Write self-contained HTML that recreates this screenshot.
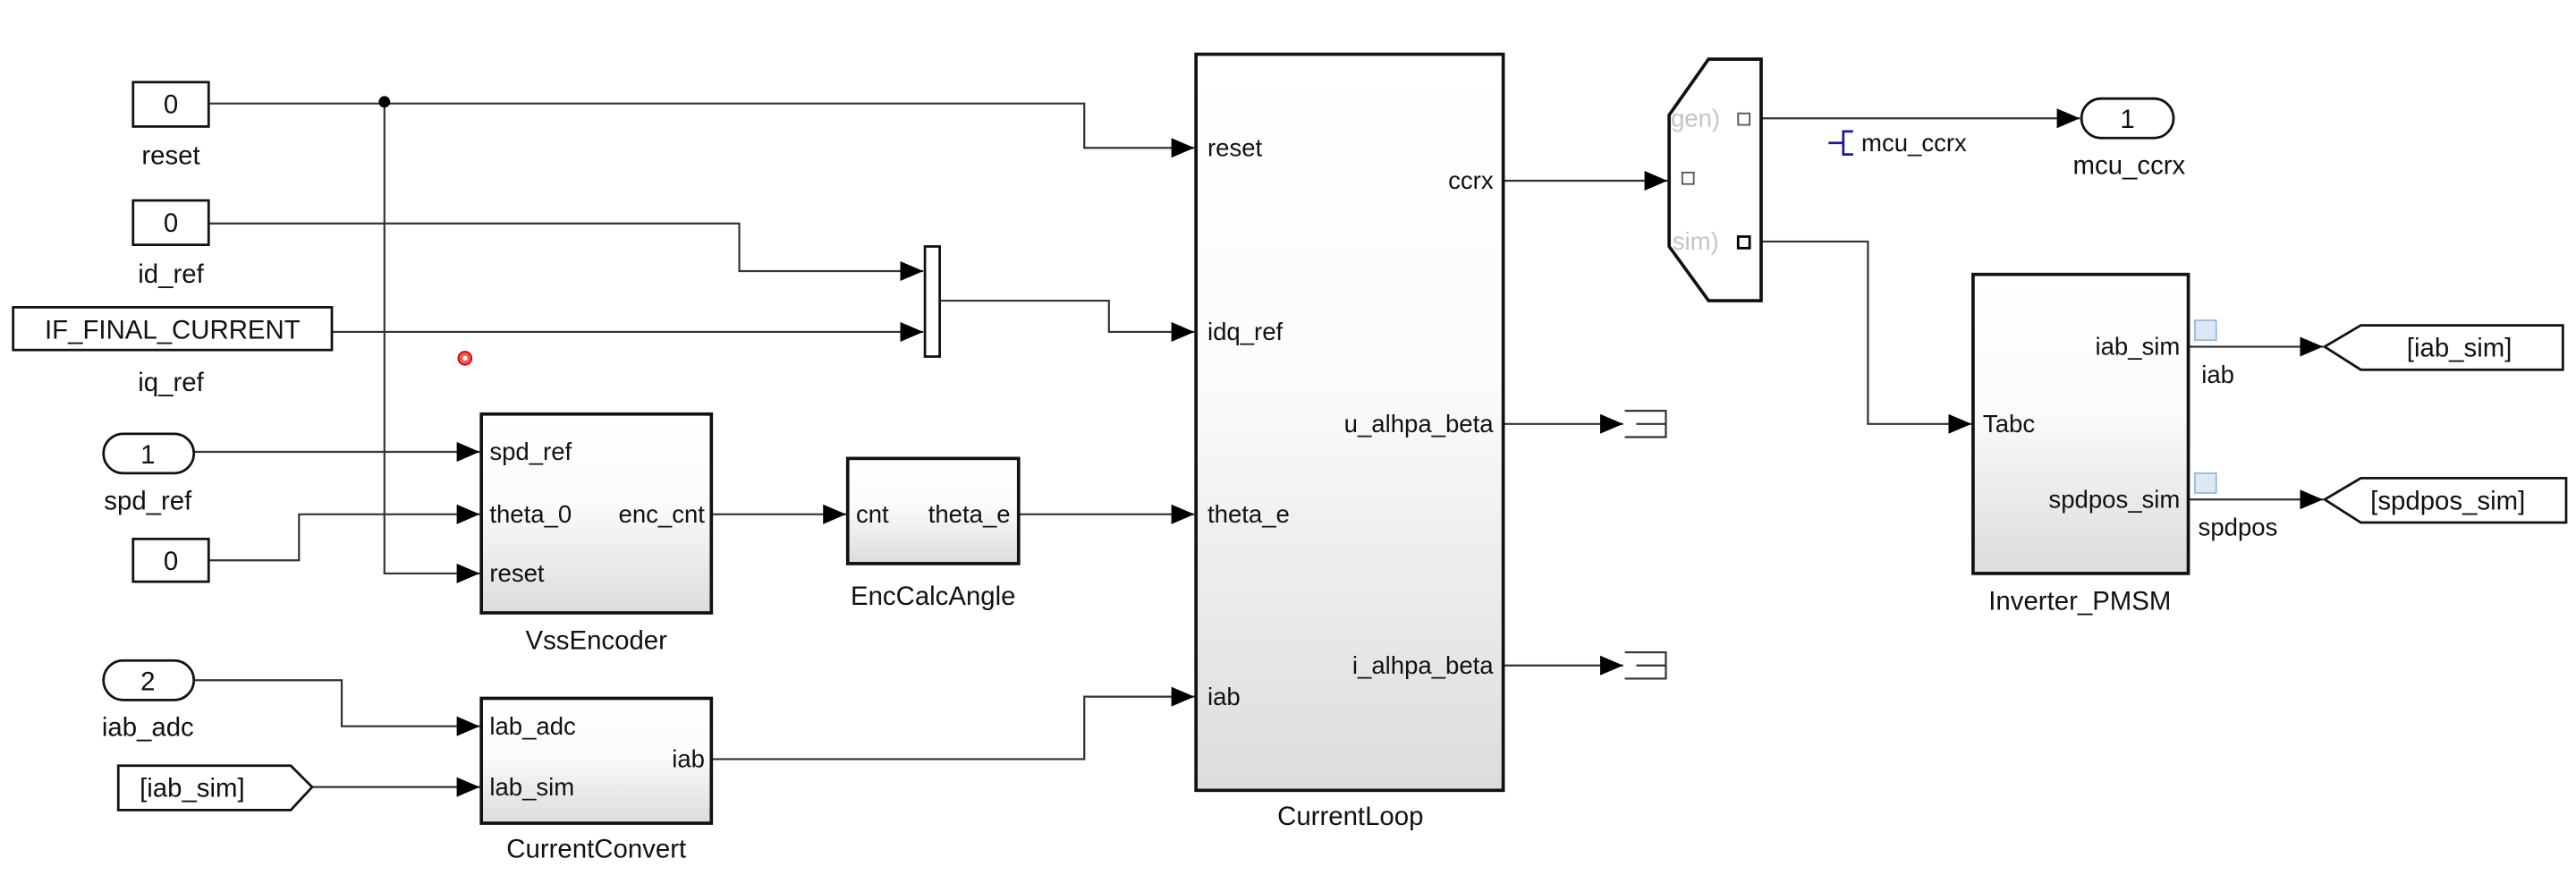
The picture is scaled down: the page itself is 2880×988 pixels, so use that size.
<!DOCTYPE html>
<html><head><meta charset="utf-8"><style>
html,body{margin:0;padding:0;background:#fff;overflow:hidden}
svg{display:block}
text{font-family:"Liberation Sans",Arial,sans-serif;fill:#111}
</style></head><body>
<svg width="2880" height="988" viewBox="0 0 1568 538" preserveAspectRatio="none" xmlns="http://www.w3.org/2000/svg">
<defs>
<linearGradient id="g" x1="0" y1="0" x2="0" y2="1"><stop offset="0" stop-color="#ffffff"/><stop offset="0.45" stop-color="#fbfbfb"/><stop offset="1" stop-color="#dcdcdc"/></linearGradient>
<marker id="a" markerWidth="14" markerHeight="12" refX="14" refY="6" orient="auto" markerUnits="userSpaceOnUse"><path d="M0,0 L14,6 L0,12 z" fill="#000"/></marker>
</defs>
<rect width="1568" height="538" fill="#fff"/>
<g fill="none" stroke="#333" stroke-width="1.2">
<path d="M127,63 H660 V90 H727" marker-end="url(#a)"/>
<path d="M234,62 V349 H292" marker-end="url(#a)"/>
<path d="M127,136 H450 V165 H562" marker-end="url(#a)"/>
<path d="M202,202 H562" marker-end="url(#a)"/>
<path d="M572,183 H675 V202 H727" marker-end="url(#a)"/>
<path d="M118,275 H292" marker-end="url(#a)"/>
<path d="M127,341 H182 V313 H292" marker-end="url(#a)"/>
<path d="M433,313 H515" marker-end="url(#a)"/>
<path d="M620,313 H727" marker-end="url(#a)"/>
<path d="M118,414 H208 V442 H292" marker-end="url(#a)"/>
<path d="M190,479 H292" marker-end="url(#a)"/>
<path d="M433,462 H660 V424 H727" marker-end="url(#a)"/>
<path d="M915,110 H1015" marker-end="url(#a)"/>
<path d="M915,258 H988" marker-end="url(#a)"/>
<path d="M915,405 H988" marker-end="url(#a)"/>
<path d="M1072,72 H1266" marker-end="url(#a)"/>
<path d="M1072,147 H1137 V258 H1200" marker-end="url(#a)"/>
<path d="M1332,211 H1414" marker-end="url(#a)"/>
<path d="M1332,304 H1414" marker-end="url(#a)"/>
</g>
<circle cx="234" cy="62" r="3.5" fill="#000"/>
<g fill="none" stroke="#333" stroke-width="1.2">
<path d="M989,250 H1014 V266 H989 M996,258 H1014"/>
<path d="M989,397 H1014 V413 H989 M996,405 H1014"/>
</g>
<g stroke="#111" stroke-width="1.5" fill="#fff">
<rect x="81" y="50" width="46" height="27"/>
<rect x="81" y="122" width="46" height="27"/>
<rect x="8" y="187" width="194" height="26"/>
<rect x="63" y="264" width="55" height="24" rx="12"/>
<rect x="81" y="328" width="46" height="26"/>
<rect x="63" y="402" width="55" height="24" rx="12"/>
<path d="M72,466 H177 L190,479 L177,493 H72 Z"/>
<rect x="1267" y="60" width="56" height="24" rx="12"/>
<path d="M1415,211 L1437,198 H1560 V225 H1437 Z"/>
<path d="M1415,304 L1437,291 H1562 V318 H1437 Z"/>
</g>
<g font-size="16" text-anchor="middle">
<text x="104" y="69">0</text><text x="104" y="100">reset</text>
<text x="104" y="141">0</text><text x="104" y="172">id_ref</text>
<text x="105" y="206">IF_FINAL_CURRENT</text><text x="104" y="238">iq_ref</text>
<text x="90" y="282">1</text><text x="90" y="310">spd_ref</text>
<text x="104" y="347">0</text>
<text x="90" y="420">2</text><text x="90" y="448">iab_adc</text>
<text x="117" y="485">[iab_sim]</text>
<text x="1295" y="78">1</text><text x="1296" y="106">mcu_ccrx</text>
<text x="1497" y="217">[iab_sim]</text>
<text x="1490" y="310">[spdpos_sim]</text>
</g>
<rect x="563" y="150" width="9" height="67" fill="#fff" stroke="#111" stroke-width="1.5"/>
<g stroke="#111" stroke-width="2" fill="url(#g)">
<rect x="293" y="252" width="140" height="121"/>
<rect x="516" y="279" width="104" height="64"/>
<rect x="728" y="33" width="187" height="448"/>
<rect x="293" y="425" width="140" height="76"/>
<rect x="1201" y="167" width="131" height="182"/>
<path d="M1040,36 H1072 V183 H1040 L1016,150 V70 Z" fill="#fff"/>
</g>
<g fill="none" stroke="#555" stroke-width="1">
<rect x="1024" y="105" width="7" height="7"/><rect x="1058" y="69" width="7" height="7"/><rect x="1058" y="144" width="7" height="7" stroke="#000" stroke-width="1.5"/>
</g>
<g font-size="15"><text x="1017" y="77" style="fill:#c4c4c4">gen)</text><text x="1018" y="152" style="fill:#c4c4c4">sim)</text></g>
<g font-size="15">
<text x="298" y="280">spd_ref</text><text x="298" y="318">theta_0</text><text x="298" y="354">reset</text>
<text x="429" y="318" text-anchor="end">enc_cnt</text>
<text x="521" y="318">cnt</text><text x="615" y="318" text-anchor="end">theta_e</text>
<text x="735" y="95">reset</text><text x="735" y="207">idq_ref</text><text x="735" y="318">theta_e</text><text x="735" y="429">iab</text>
<text x="909" y="115" text-anchor="end">ccrx</text><text x="909" y="263" text-anchor="end">u_alhpa_beta</text><text x="909" y="410" text-anchor="end">i_alhpa_beta</text>
<text x="298" y="447">lab_adc</text><text x="298" y="484">lab_sim</text><text x="429" y="467" text-anchor="end">iab</text>
<text x="1327" y="216" text-anchor="end">iab_sim</text><text x="1207" y="263">Tabc</text><text x="1327" y="309" text-anchor="end">spdpos_sim</text>
<text x="1340" y="233">iab</text><text x="1338" y="326">spdpos</text>
<text x="1133" y="92">mcu_ccrx</text>
</g>
<path d="M1113,87 H1122 M1128,80 H1122 V94 H1128" stroke="#1a1aa0" stroke-width="1.5" fill="none"/>
<g fill="#dce8f4" stroke="#9bbad8" stroke-width="1"><rect x="1336" y="195" width="13" height="12"/><rect x="1336" y="288" width="13" height="12"/></g>
<g font-size="16" text-anchor="middle">
<text x="363" y="395">VssEncoder</text><text x="568" y="368">EncCalcAngle</text>
<text x="822" y="502">CurrentLoop</text><text x="363" y="522">CurrentConvert</text>
<text x="1266" y="371">Inverter_PMSM</text>
</g>
<circle cx="283" cy="218" r="4" fill="#f55" stroke="#d00"/>
<circle cx="283" cy="218" r="1.5" fill="#fff"/>
</svg>
</body></html>
